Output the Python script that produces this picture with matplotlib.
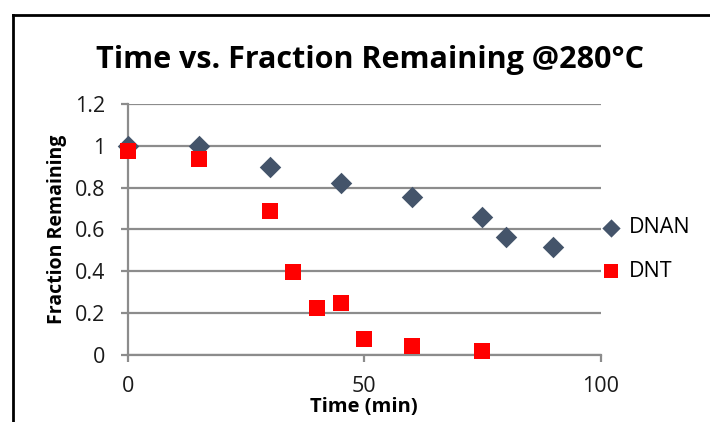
import matplotlib

matplotlib.use("Agg")
import matplotlib.pyplot as plt
from matplotlib.lines import Line2D

# Sampling times (min) and fraction of compound remaining at 280 C
dnan_time = [0, 15, 30, 45, 60, 75, 80, 90]
dnan_frac = [1.0, 1.0, 0.90, 0.82, 0.755, 0.66, 0.565, 0.515]
dnt_time = [0, 15, 30, 35, 40, 45, 50, 60, 75]
dnt_frac = [0.975, 0.935, 0.69, 0.395, 0.223, 0.247, 0.075, 0.045, 0.02]

y_ticks = [0, 0.2, 0.4, 0.6, 0.8, 1.0, 1.2]
y_labels = ["0", "0.2", "0.4", "0.6", "0.8", "1", "1.2"]
x_ticks = [0, 50, 100]

plt.rcParams["font.family"] = ["Open Sans", "DejaVu Sans"]
GRID = "#8c8c8c"

fig = plt.figure(figsize=(7.1, 4.22), dpi=100)
ax = fig.add_axes([0.18, 0.1588, 0.666, 0.5948])

ax.scatter(dnan_time, dnan_frac, marker="D", s=120, color="#44546a", label="DNAN", zorder=3, linewidths=0)
ax.scatter(dnt_time, dnt_frac, marker="s", s=140, color="#ff0000", label="DNT", zorder=3, linewidths=0)

ax.set_xlim(0, 100)
ax.set_ylim(0, 1.2)
ax.set_yticks(y_ticks)
ax.set_yticklabels(y_labels)
ax.set_xticks(x_ticks)
ax.grid(axis="y", color=GRID, linewidth=1.6)
ax.set_axisbelow(True)
for side in ("top", "right"):
    ax.spines[side].set_visible(False)
for side in ("left", "bottom"):
    ax.spines[side].set_color(GRID)
    ax.spines[side].set_linewidth(1.6)
ax.tick_params(axis="both", colors=GRID, width=1.6, length=5, labelsize=15.5, labelcolor="#1a1a1a")
ax.tick_params(axis="x", pad=10)
ax.tick_params(axis="y", pad=11)
for c in ax.collections:
    c.set_clip_on(False)

ax.set_xlabel("Time (min)", fontsize=14.5, fontweight="bold", labelpad=0)
ax.set_ylabel("Fraction Remaining", fontsize=14, fontweight="bold", labelpad=6)
fig.text(0.521, 0.858, "Time vs. Fraction Remaining @280°C", ha="center", va="center",
         fontsize=22, fontweight="bold")

ax.legend(loc="center left", bbox_to_anchor=(1.0, 0.42), frameon=False, fontsize=15.5,
          handlelength=1.0, handletextpad=0.3, labelspacing=1.05, borderaxespad=0,
          borderpad=0, markerscale=0.85)

# outer chart frame (cropped on the right and bottom)
fig.add_artist(Line2D([0.019, 0.019], [0.0, 0.965], transform=fig.transFigure, color="black", linewidth=2))
fig.add_artist(Line2D([0.019, 1.0], [0.965, 0.965], transform=fig.transFigure, color="black", linewidth=2))

fig.savefig("out.png", dpi=100)
